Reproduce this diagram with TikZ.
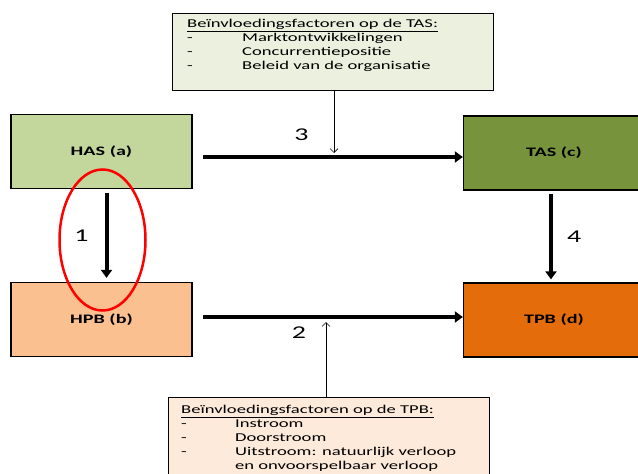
\documentclass[tikz,border=0pt]{standalone}
\usepackage{fontspec}
\setmainfont{Carlito}[FakeStretch=1.55]
\usetikzlibrary{arrows.meta,shapes.geometric}

\definecolor{hasfill}{HTML}{C3D69B}
\definecolor{hpbfill}{HTML}{FAC090}
\definecolor{tasfill}{HTML}{77933C}
\definecolor{tpbfill}{HTML}{E46C0A}
\definecolor{tasinfo}{HTML}{EBF1DE}
\definecolor{tpbinfo}{HTML}{FDEADA}

\begin{document}
\begin{tikzpicture}[x=1pt,y=-1pt,
    fatarrow/.style={line width=4pt,-{Triangle[length=8pt,width=11pt]}},
    thinarrow/.style={line width=0.7pt,-{Straight Barb[length=4pt,width=8pt]}},
    num/.style={font=\fontsize{18}{20}\selectfont,inner sep=0pt},
    infotext/.style={anchor=north west,inner sep=0pt,align=left,
      font=\fontsize{12}{14}\selectfont}]

        \useasboundingbox (0,0) rectangle (638,474);

        \begin{scope}[every node/.style={rectangle,draw,line width=1.3pt,
            font=\bfseries\fontsize{13}{15}\selectfont,
            minimum width=181pt,minimum height=74pt}]
          \node[fill=hasfill] (has) at (101.5,151.5) {HAS (a)};
          \node[fill=hpbfill] (hpb) at (101.5,319.5) {HPB (b)};
          \node[fill=tasfill] (tas) at (554,153)   {TAS (c)};
          \node[fill=tpbfill] (tpb) at (554,320)   {TPB (d)};
        \end{scope}

        \begin{scope}[every node/.style={rectangle,draw,line width=1pt,minimum width=321pt}]
          \node[fill=tasinfo,minimum height=77pt] (tasbox) at (333,51.5) {};
          \node[fill=tpbinfo,minimum height=84pt] (tpbbox) at (329,439) {};
        \end{scope}

        \node[infotext] (tastext) at ([shift={(15,5)}]tasbox.north west) {%
          \begin{tabular}{@{}p{55pt}@{}l@{}}
            \multicolumn{2}{@{}l@{}}{\underline{Beïnvloedingsfactoren op de TAS:}}\\
            - & Marktontwikkelingen\\
            - & Concurrentiepositie\\
            - & Beleid van de organisatie
          \end{tabular}};
        \node[infotext] (tpbtext) at ([shift={(13,7)}]tpbbox.north west) {%
          \begin{tabular}{@{}p{54pt}@{}l@{}}
            \multicolumn{2}{@{}l@{}}{\underline{Beïnvloedingsfactoren op de TPB:}}\\
            - & Instroom\\
            - & Doorstroom\\
            - & Uitstroom: natuurlijk verloop\\
              & en onvoorspelbaar verloop
          \end{tabular}};

        \coordinate (hit3) at (334,153);
        \coordinate (hit2) at (326,322);

        \draw[fatarrow] ([shift={(10,5.5)}]has.east) -- node[num,pos=0.38,above=14pt] {3} ([shift={(0,4)}]tas.west);
        \draw[fatarrow] ([shift={(10,-2.5)}]hpb.east) -- node[num,pos=0.37,below=8pt] {2} ([shift={(0,-3)}]tpb.west);
        \draw[fatarrow] ([shift={(5,4)}]has.south) -- node[num,left=16pt] {1} ([shift={(5,-4)}]hpb.north);
        \draw[fatarrow] ([shift={(-3,3)}]tas.south) -- node[num,right=14pt] {4} ([shift={(-3,-3)}]tpb.north);

        \draw[thinarrow] (tasbox.south -| hit3) -- (hit3);
        \draw[thinarrow] (tpbbox.north -| hit2) -- (hit2);

        \node[ellipse,draw=red,line width=2.5pt,minimum width=86pt,minimum height=141pt] (focus) at (102.5,240) {};

      \end{tikzpicture}
\end{document}
